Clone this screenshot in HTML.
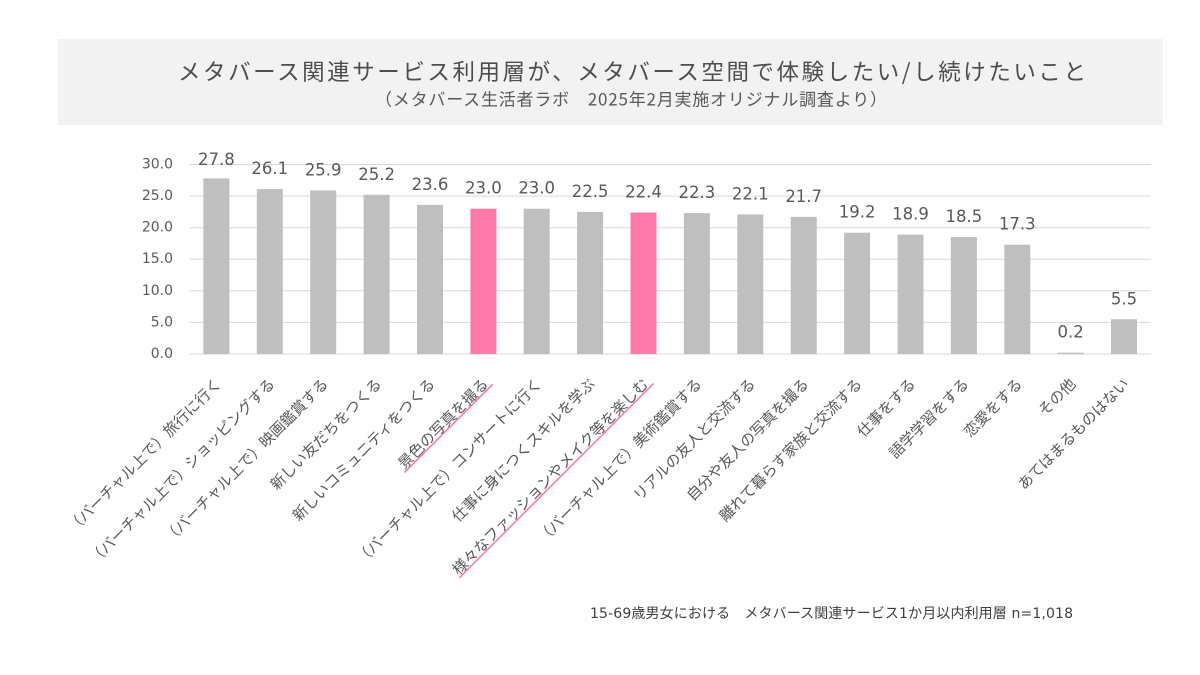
<!DOCTYPE html>
<html>
<head>
<meta charset="utf-8">
<style>
  html, body { margin: 0; padding: 0; background: #ffffff; }
  svg { display: block; }
  .jp { font-family: "Liberation Sans", "Noto Sans CJK JP", sans-serif; }
  .num { font-family: "DejaVu Sans", "Noto Sans CJK JP", sans-serif; }
  .lbl { font-family: "Noto Sans CJK JP", sans-serif; font-size: 15px; fill: #595959; }
</style>
</head>
<body>
<svg width="1200" height="675" viewBox="0 0 1200 675" xmlns="http://www.w3.org/2000/svg">
  <rect x="0" y="0" width="1200" height="675" fill="#ffffff"/>
  <!-- header band -->
  <rect x="58" y="39" width="1105" height="86" fill="#f2f2f2"/>
  <text x="178" y="71" font-size="22.5" fill="#4d4d4d" dominant-baseline="central" textLength="908" lengthAdjust="spacing" style="font-family:'Noto Sans CJK JP',sans-serif">メタバース関連サービス利用層が、メタバース空間で体験したい/し続けたいこと</text>
  <text x="375" y="98" font-size="17" fill="#595959" dominant-baseline="central" textLength="512" lengthAdjust="spacing" style="font-family:'Noto Sans CJK JP',sans-serif">（メタバース生活者ラボ　2025年2月実施オリジナル調査より）</text>

  <!-- gridlines -->
  <g stroke="#d9d9d9" stroke-width="1">
    <line x1="189.5" y1="164.5" x2="1151" y2="164.5"/>
    <line x1="189.5" y1="196.1" x2="1151" y2="196.1"/>
    <line x1="189.5" y1="227.7" x2="1151" y2="227.7"/>
    <line x1="189.5" y1="259.2" x2="1151" y2="259.2"/>
    <line x1="189.5" y1="290.8" x2="1151" y2="290.8"/>
    <line x1="189.5" y1="322.4" x2="1151" y2="322.4"/>
    <line x1="189.5" y1="354" x2="1151" y2="354"/>
  </g>

  <!-- y axis labels -->
  <g class="num" font-size="14" fill="#595959" text-anchor="end" dominant-baseline="central">
    <text x="173" y="164.5">30.0</text>
    <text x="173" y="196.1">25.0</text>
    <text x="173" y="227.7">20.0</text>
    <text x="173" y="259.2">15.0</text>
    <text x="173" y="290.8">10.0</text>
    <text x="173" y="322.4">5.0</text>
    <text x="173" y="354">0.0</text>
  </g>

  <!-- bars -->
  <g fill="#bfbfbf">
    <rect x="203.4" y="178.4" width="26" height="175.6"/>
    <rect x="256.8" y="189.1" width="26" height="164.9"/>
    <rect x="310.2" y="190.4" width="26" height="163.6"/>
    <rect x="363.6" y="194.8" width="26" height="159.2"/>
    <rect x="417.0" y="204.9" width="26" height="149.1"/>
    <rect x="470.4" y="208.7" width="26" height="145.3" fill="#ff7aa8"/>
    <rect x="523.7" y="208.7" width="26" height="145.3"/>
    <rect x="577.1" y="211.9" width="26" height="142.1"/>
    <rect x="630.5" y="212.5" width="26" height="141.5" fill="#ff7aa8"/>
    <rect x="683.9" y="213.1" width="26" height="140.9"/>
    <rect x="737.3" y="214.4" width="26" height="139.6"/>
    <rect x="790.7" y="216.9" width="26" height="137.1"/>
    <rect x="844.1" y="232.7" width="26" height="121.3"/>
    <rect x="897.5" y="234.6" width="26" height="119.4"/>
    <rect x="950.9" y="237.1" width="26" height="116.9"/>
    <rect x="1004.3" y="244.7" width="26" height="109.3"/>
    <rect x="1057.6" y="352.7" width="26" height="1.3"/>
    <rect x="1111.0" y="319.3" width="26" height="34.7"/>
  </g>

  <!-- value labels -->
  <g class="num" font-size="16.5" fill="#595959" text-anchor="middle">
    <text x="216.4" y="165.2">27.8</text>
    <text x="269.8" y="174.1">26.1</text>
    <text x="323.2" y="175.4">25.9</text>
    <text x="376.6" y="179.8">25.2</text>
    <text x="430.0" y="189.9">23.6</text>
    <text x="483.4" y="193.7">23.0</text>
    <text x="536.7" y="193.7">23.0</text>
    <text x="590.1" y="196.9">22.5</text>
    <text x="643.5" y="197.5">22.4</text>
    <text x="696.9" y="198.1">22.3</text>
    <text x="750.3" y="199.4">22.1</text>
    <text x="803.7" y="201.9">21.7</text>
    <text x="857.1" y="217.7">19.2</text>
    <text x="910.5" y="219.6">18.9</text>
    <text x="963.9" y="222.1">18.5</text>
    <text x="1017.3" y="229.7">17.3</text>
    <text x="1070.6" y="337.7">0.2</text>
    <text x="1124.0" y="304.3">5.5</text>
  </g>

  <!-- category labels -->
  <g class="lbl" text-anchor="end" dominant-baseline="central">
    <text transform="translate(218.4,381) rotate(-45)">（バーチャル上で）旅行に行く</text>
    <text transform="translate(271.8,381) rotate(-45)">（バーチャル上で）ショッピングする</text>
    <text transform="translate(325.2,381) rotate(-45)">（バーチャル上で）映画鑑賞する</text>
    <text transform="translate(378.6,381) rotate(-45)">新しい友だちをつくる</text>
    <text transform="translate(432.0,381) rotate(-45)">新しいコミュニティをつくる</text>
    <text transform="translate(485.4,381) rotate(-45)">景色の写真を撮る</text>
    <text transform="translate(538.7,381) rotate(-45)">（バーチャル上で）コンサートに行く</text>
    <text transform="translate(592.1,381) rotate(-45)">仕事に身につくスキルを学ぶ</text>
    <text transform="translate(645.5,381) rotate(-45)">様々なファッションやメイク等を楽しむ</text>
    <text transform="translate(698.9,381) rotate(-45)">（バーチャル上で）美術鑑賞する</text>
    <text transform="translate(752.3,381) rotate(-45)">リアルの友人と交流する</text>
    <text transform="translate(805.7,381) rotate(-45)">自分や友人の写真を撮る</text>
    <text transform="translate(859.1,381) rotate(-45)">離れて暮らす家族と交流する</text>
    <text transform="translate(912.5,381) rotate(-45)">仕事をする</text>
    <text transform="translate(965.9,381) rotate(-45)">語学学習をする</text>
    <text transform="translate(1019.3,381) rotate(-45)">恋愛をする</text>
    <text transform="translate(1072.6,381) rotate(-45)">その他</text>
    <text transform="translate(1126.0,381) rotate(-45)">あてはまるものはない</text>
  </g>

  <!-- pink underlines -->
  <g stroke="#ff7aa8" stroke-width="1.6">
    <line transform="translate(485.4,381) rotate(-45)" x1="-122" y1="7.5" x2="3" y2="7.5"/>
    <line transform="translate(645.5,381) rotate(-45)" x1="-271" y1="7.5" x2="4" y2="7.5"/>
  </g>

  <!-- footer -->
  <text x="590" y="614" font-size="14" fill="#404040" dominant-baseline="central" textLength="483" lengthAdjust="spacing" style="font-family:'DejaVu Sans','Noto Sans CJK JP',sans-serif">15-69歳男女における　メタバース関連サービス1か月以内利用層 n=1,018</text>
</svg>
</body>
</html>
